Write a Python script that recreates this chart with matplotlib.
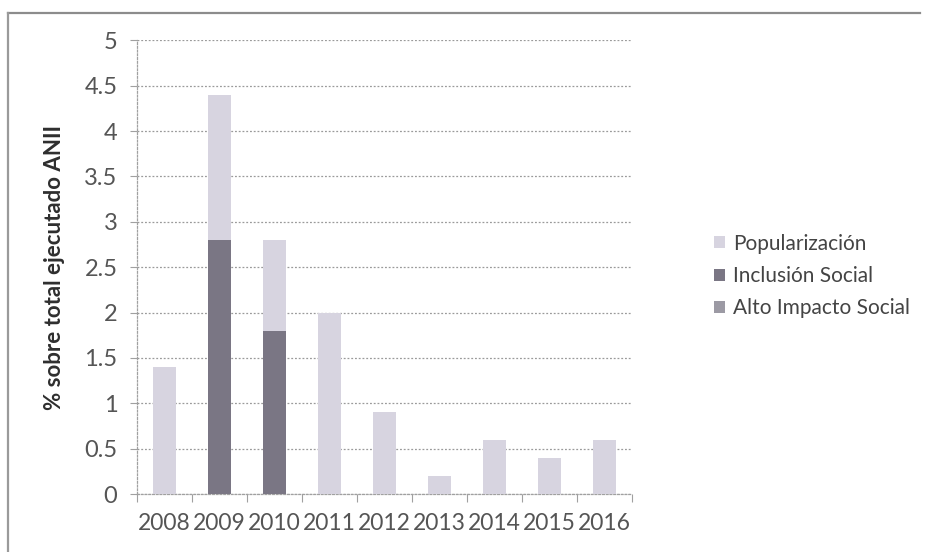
import matplotlib
matplotlib.use("Agg")
import matplotlib.pyplot as plt
from matplotlib.lines import Line2D
import numpy as np

years = ["2008", "2009", "2010", "2011", "2012", "2013", "2014", "2015", "2016"]
alto_impacto = [0, 0, 0, 0, 0, 0, 0, 0, 0]
inclusion_social = [0, 2.8, 1.8, 0, 0, 0, 0, 0, 0]
popularizacion = [1.4, 1.6, 1.0, 2.0, 0.9, 0.2, 0.6, 0.4, 0.6]
y_ticks = [0, 0.5, 1, 1.5, 2, 2.5, 3, 3.5, 4, 4.5, 5]

plt.rcParams["font.family"] = ["Lato", "DejaVu Sans"]

fig = plt.figure(figsize=(9.25, 5.52), dpi=100)
ax = fig.add_axes([0.148, 0.105, 0.535, 0.822])

x = np.arange(len(years))
w = 0.42
c_alto = "#9c9aa4"
c_incl = "#7a7684"
c_pop = "#d7d4e0"

b1 = ax.bar(x, alto_impacto, w, color=c_alto, label="Alto Impacto Social", zorder=3)
base = np.array(alto_impacto)
b2 = ax.bar(x, inclusion_social, w, bottom=base, color=c_incl, label="Inclusión Social", zorder=3)
base = base + np.array(inclusion_social)
b3 = ax.bar(x, popularizacion, w, bottom=base, color=c_pop, label="Popularización", zorder=3)

ax.set_xlim(-0.5, len(years) - 0.5)
ax.set_ylim(0, 5)
ax.set_yticks(y_ticks)
ax.set_yticklabels([f"{v:g}" for v in y_ticks])
ax.yaxis.grid(True, color="#9a9a9a", linestyle=(0, (1.5, 1.5)), linewidth=0.9, zorder=0)
ax.set_axisbelow(True)

# category boundaries carry the tick marks, labels sit at the category centres
ax.set_xticks(np.arange(-0.5, len(years), 1))
ax.set_xticklabels([])
ax.set_xticks(x, minor=True)
ax.set_xticklabels(years, minor=True)
ax.tick_params(axis="x", which="major", length=6, color="#a0a0a0", direction="out")
ax.tick_params(axis="x", which="minor", length=0, pad=14, labelsize=16.5, labelcolor="#555555")
ax.tick_params(axis="y", length=5, color="#a0a0a0", pad=9, labelsize=17, labelcolor="#555555")

for s in ["top", "right"]:
    ax.spines[s].set_visible(False)
for s in ["left", "bottom"]:
    ax.spines[s].set_color("#a0a0a0")
    ax.spines[s].set_linestyle((0, (1.5, 1.5)))
    ax.spines[s].set_linewidth(0.9)

ax.set_ylabel("% sobre total ejecutado ANII", fontsize=16, fontweight="bold",
              color="#2e2e2e", labelpad=14)

fig.legend(handles=[b3, b2, b1], labels=["Popularización", "Inclusión Social", "Alto Impacto Social"],
           loc="center left", bbox_to_anchor=(0.752, 0.5), frameon=False,
           fontsize=15, handlelength=0.5, handleheight=0.5, handletextpad=0.4,
           labelspacing=0.6, labelcolor="#444444")

# chart-area frame: top and left edges
fig.add_artist(Line2D([8 / 925, 920 / 925], [1 - 13 / 552, 1 - 13 / 552],
                      transform=fig.transFigure, color="#8c8c8c", linewidth=1.6))
fig.add_artist(Line2D([8 / 925, 8 / 925], [0, 1 - 13 / 552],
                      transform=fig.transFigure, color="#9a9a9a", linewidth=1.6))

fig.savefig("out.png", dpi=100)
